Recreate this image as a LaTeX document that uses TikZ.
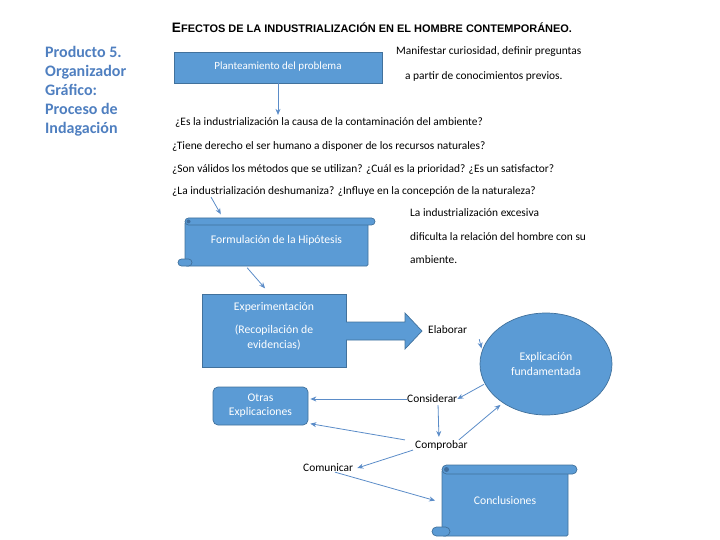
\documentclass[tikz,border=0pt]{standalone}
\usepackage{fontspec}
\setmainfont{Carlito}
\newfontfamily\titlefont{Liberation Sans}
\usetikzlibrary{arrows.meta,shapes.geometric}
\definecolor{bfill}{HTML}{5B9BD5}
\definecolor{bline}{HTML}{41719C}
\definecolor{aline}{HTML}{5B8CC8}
\definecolor{ltext}{HTML}{4F7FC0}
\definecolor{curlc}{HTML}{3F6E9E}
\newcommand\tsc[2]{{\fontsize{12.5}{12.5}\selectfont #1}{\fontsize{10}{10}\selectfont #2}}
\tikzset{
  shp/.style={fill=bfill, draw=bline, line width=0.7pt},
  intext/.style={text=white, font=\fontsize{11.7}{15}\selectfont, align=center},
  plain/.style={inner sep=0pt, font=\fontsize{11.4}{13}\selectfont, anchor=west},
  conn/.style={draw=aline, line width=0.8pt, -{Stealth[length=6pt,width=5pt]}}
}
\begin{document}
\begin{tikzpicture}[x=1pt,y=-1pt]
\useasboundingbox (0,0) rectangle (720,540);
% title
\node[inner sep=0pt] (title) at (372,28) {\resizebox{400pt}{!}{\titlefont\bfseries \tsc{E}{FECTOS DE LA INDUSTRIALIZACIÓN EN EL HOMBRE CONTEMPORÁNEO.}}};
% left text
\node[inner sep=0pt, anchor=north west, align=left, text=ltext, font=\fontsize{16}{19}\selectfont\bfseries] (prod) at (45,46) {Producto 5.\\Organizador\\Gráfico:\\Proceso de\\Indagación};
% planteamiento
\node[shp, rectangle, minimum width=208pt, minimum height=31pt, intext, font=\fontsize{11}{13}\selectfont] (plan) at (278,67.5) {\raisebox{4.5pt}{Planteamiento del problema}};
\node[plain] (manif) at (396,52) {Manifestar curiosidad, definir preguntas};
\node[plain] (apart) at (405,76) {a partir de conocimientos previos.};
% questions
\node[plain] (q1) at (175,122) {¿Es la industrialización la causa de la contaminación del ambiente?};
\node[plain] (q2) at (172,146) {¿Tiene derecho el ser humano a disponer de los recursos naturales?};
\node[plain] (q3) at (172,169) {¿Son válidos los métodos que se utilizan? ¿Cuál es la prioridad? ¿Es un satisfactor?};
\node[plain] (q4) at (172,191) {¿La industrialización deshumaniza? ¿Influye en la concepción de la naturaleza?};
% formulacion scroll
\filldraw[shp, rounded corners=1.5pt] (185,221.5) -- (185,266) -- (368,266) -- (368,221.5) -- cycle;
\filldraw[shp, rounded corners=3.5pt] (178,259) rectangle (192,266);
\filldraw[shp, rounded corners=3.5pt] (185,218) rectangle (375,225);
\fill[curlc] (188.5,221.5) circle (2pt);
\node[minimum width=183pt, minimum height=48pt, inner sep=0pt, intext] (form) at (276.5,242) {\raisebox{5pt}{Formulación de la Hipótesis}};
\node[plain] (lind) at (410,213) {La industrialización excesiva};
\node[plain] (dif) at (410,237) {dificulta la relación del hombre con su};
\node[plain] (amb) at (410,260) {ambiente.};
% experimentacion
\node[shp, rectangle, minimum width=144pt, minimum height=73pt] (exp) at (274,330.5) {};
\node[intext] (exptext) at (274,326) {Experimentación\\[8pt](Recopilación de\\evidencias)};
\fill[bfill] (345.5,322) -- (405,322) -- (405,313) -- (422,331) -- (405,349) -- (405,340) -- (345.5,340) -- cycle;
\draw[bline, line width=0.7pt] (346,322) -- (405,322) -- (405,313) -- (422,331) -- (405,349) -- (405,340) -- (346,340);
\node[plain] (elab) at (428,330) {Elaborar};
% ellipse
\node[shp, ellipse, minimum width=132pt, minimum height=102pt, inner sep=0pt, intext] (ell) at (546,364) {Explicación\\fundamentada};
% otras
\node[shp, rectangle, rounded corners=5pt, minimum width=95pt, minimum height=38pt, intext, font=\fontsize{11.7}{14}\selectfont] (otras) at (260.5,406) {Otras\\Explicaciones};
\node[plain] (cons) at (407,399) {Considerar};
\node[plain] (comp) at (415,445) {Comprobar};
\node[plain] (comu) at (303,468) {Comunicar};
% conclusiones scroll
\filldraw[shp, rounded corners=1.5pt] (442,469.5) -- (442,536) -- (568,536) -- (568,469.5) -- cycle;
\filldraw[shp, rounded corners=4.5pt] (432,527) rectangle (450,536);
\filldraw[shp, rounded corners=4.5pt] (442,465) rectangle (577,474);
\fill[curlc] (446.5,469.5) circle (2.5pt);
\node[minimum width=126pt, minimum height=71pt, inner sep=0pt, intext] (concl) at (505,500) {Conclusiones};
% connectors
\draw[conn, shorten >=2pt] (plan.south) -- (plan.south |- q1.north);
\draw[conn, shorten >=4pt] ([xshift=39pt, yshift=-1pt]q4.south west) -- ([xshift=38pt]form.north west);
\draw[conn, shorten <=2pt, shorten >=7pt] ([xshift=61pt]form.south west) -- ([xshift=68pt]exp.north west);
\draw[conn, shorten >=2pt] ([xshift=12pt, yshift=-5pt]elab.south east) -- (ell.168);
\draw[conn, shorten <=1pt] (ell.198) -- (cons.east);
\draw[conn, shorten >=2pt] (cons.west) -- (cons.west -| otras.east);
\draw[conn, shorten <=2pt, shorten >=3pt] ([xshift=31pt]cons.south west) -- ([xshift=24pt]comp.north west);
\draw[conn, shorten >=2pt] ([xshift=-10pt]comp.north west) -- ([yshift=2pt]otras.south east);
\draw[conn, shorten >=3pt] ([xshift=-9pt]comp.north east) -- (ell.222);
\draw[conn] ([xshift=-2pt]comp.south west) -- ([xshift=4pt]comu.east);
\draw[conn, shorten >=7pt] ([xshift=32pt]comu.south west) -- ([yshift=-2.5pt]concl.west);
\end{tikzpicture}
\end{document}
